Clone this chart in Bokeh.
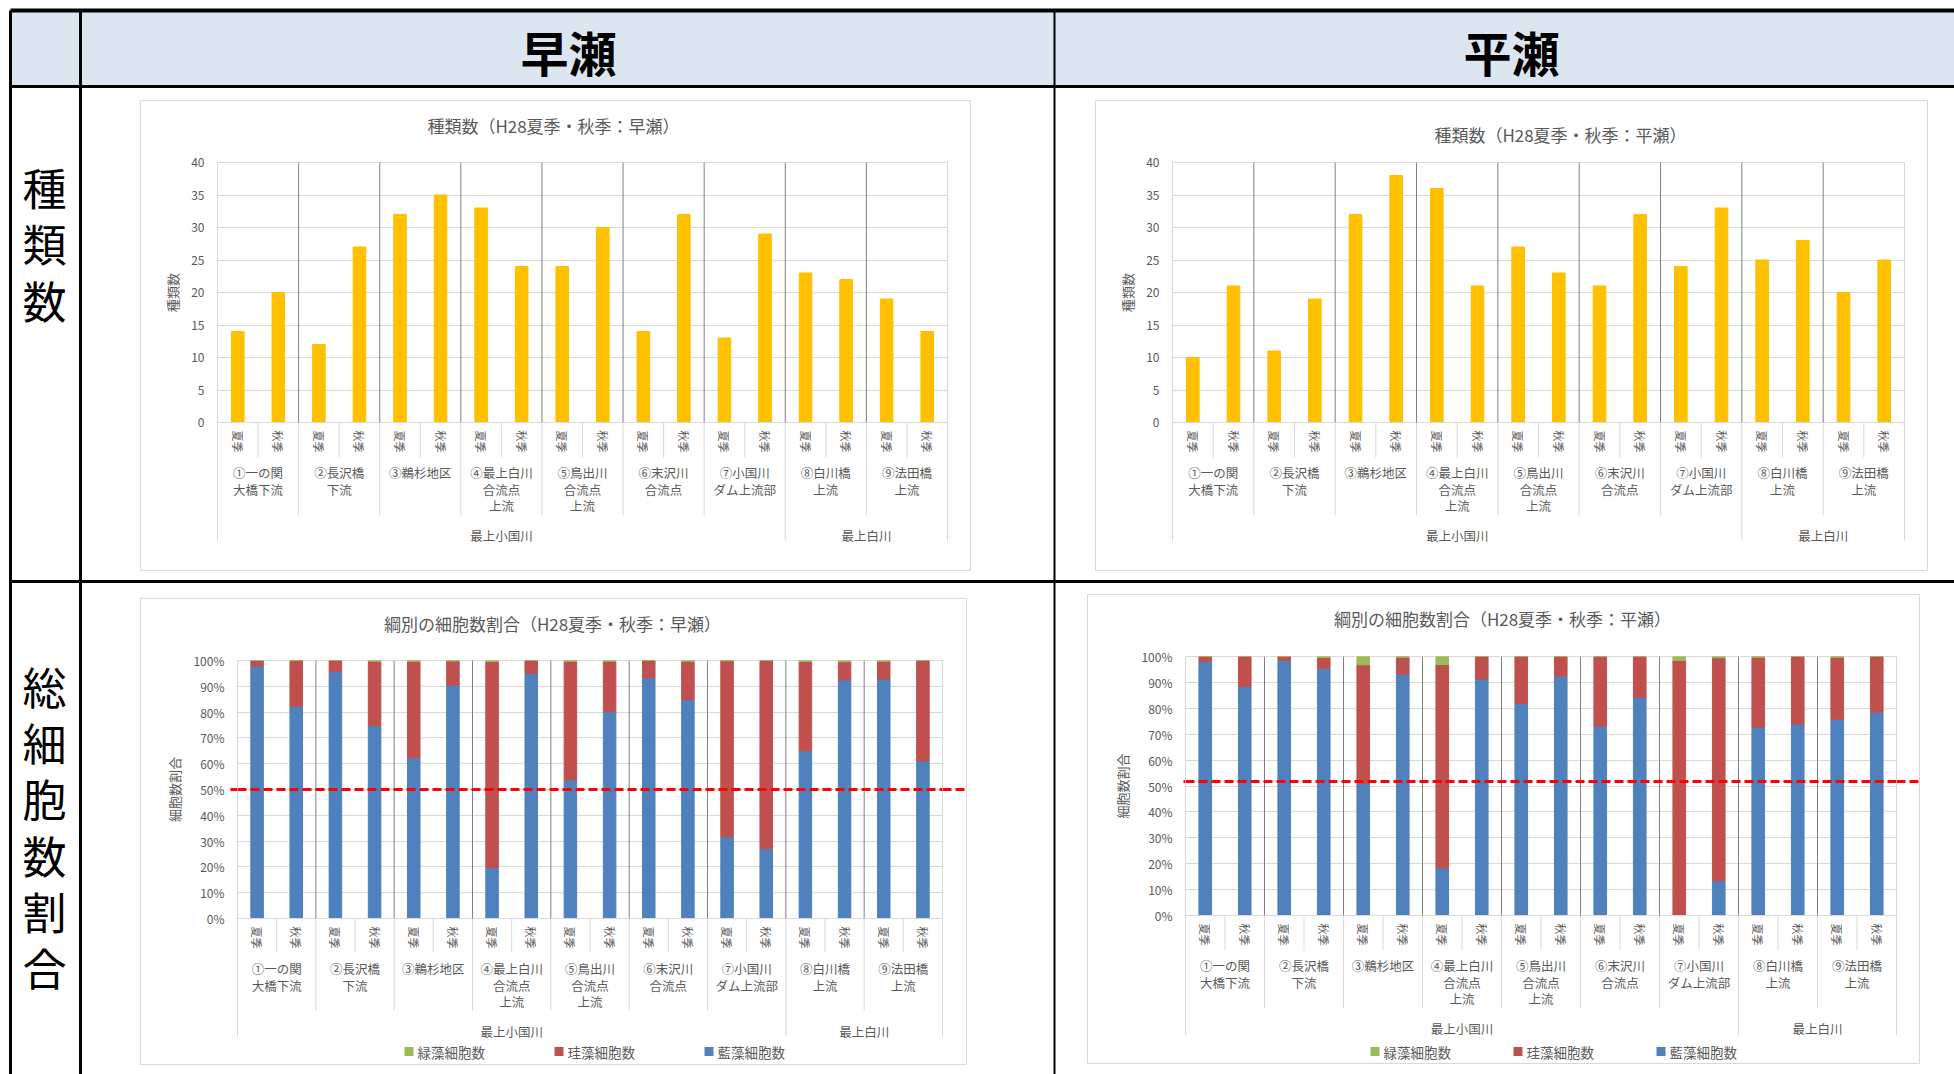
from bokeh.plotting import figure
from bokeh.layouts import column
from bokeh.models import (FactorRange, Range1d, FixedTicker, PrintfTickFormatter,
                          Span, ColumnDataSource)
from bokeh.core.properties import value
from bokeh.embed import file_html
from bokeh.resources import INLINE

FONT = "Noto Sans CJK JP"
TXT = "#595959"
LIGHT = "#D9D9D9"
DARK = "#808080"

# ---------------- data ----------------
rivers = ["最上小国川"] * 7 + ["最上白川"] * 2
sites = ["①一の関\n大橋下流", "②長沢橋\n下流", "③鵜杉地区", "④最上白川\n合流点\n上流",
         "⑤鳥出川\n合流点\n上流", "⑥末沢川\n合流点", "⑦小国川\nダム上流部",
         "⑧白川橋\n上流", "⑨法田橋\n上流"]
seasons = ["夏季", "秋季"]

species_ticks = [0, 5, 10, 15, 20, 25, 30, 35, 40]
pct_ticks = [0, 10, 20, 30, 40, 50, 60, 70, 80, 90, 100]

hayase_species = [14, 20, 12, 27, 32, 35, 33, 24, 24, 30, 14, 32, 13, 29, 23, 22, 19, 14]
hirase_species = [10, 21, 11, 19, 32, 38, 36, 21, 27, 23, 21, 32, 24, 33, 25, 28, 20, 25]

hayase_blue = [97.9, 82.3, 95.6, 74.7, 62.3, 90.5, 19.7, 95.0, 53.7, 80.1, 93.4, 84.9, 31.7, 27.0, 65.0, 92.5, 92.8, 61.0]
hayase_red = [2.1, 17.7, 4.4, 25.0, 37.4, 9.3, 79.9, 5.0, 46.0, 19.6, 6.6, 14.8, 68.2, 73.0, 34.6, 7.0, 6.9, 39.0]
hayase_green = [0.0, 0.0, 0.0, 0.3, 0.3, 0.2, 0.4, 0.0, 0.3, 0.3, 0.0, 0.3, 0.1, 0.0, 0.4, 0.5, 0.3, 0.0]

hirase_blue = [98.1, 88.4, 98.5, 95.5, 51.0, 93.2, 18.4, 91.3, 81.9, 92.4, 73.1, 84.2, 0.0, 13.4, 72.8, 73.9, 75.8, 78.5]
hirase_red = [1.9, 11.6, 1.5, 4.1, 45.8, 6.5, 78.5, 8.7, 18.1, 7.6, 26.9, 15.8, 98.5, 86.1, 26.9, 26.1, 23.9, 21.5]
hirase_green = [0.0, 0.0, 0.0, 0.4, 3.2, 0.3, 3.1, 0.0, 0.0, 0.0, 0.0, 0.0, 1.5, 0.5, 0.3, 0.0, 0.3, 0.0]

hayase_ref_pct = 50.0
hirase_ref_pct = 51.7

col_headers = ["早瀬", "平瀬"]
row_headers = ["種類数", "総細胞数割合"]
chart_titles = ["種類数（H28夏季・秋季：早瀬）", "種類数（H28夏季・秋季：平瀬）",
                "綱別の細胞数割合（H28夏季・秋季：早瀬）", "綱別の細胞数割合（H28夏季・秋季：平瀬）"]
species_label = "種類数"
pct_label = "細胞数割合"
legend_labels = ["緑藻細胞数", "珪藻細胞数", "藍藻細胞数"]

YELLOW = "#FFC000"
GREEN, RED, BLUE = "#9BBB59", "#C0504D", "#4F81BD"
legend_colors = [GREEN, RED, BLUE]

factors = [(r, s, se) for r, s in zip(rivers, sites) for se in seasons]
N = len(factors)

# ---------------- layout geometry (page pixels) ----------------
PAGE_W, PAGE_H = 1954, 1074
GEO = [
    dict(box=(140, 100, 970, 570), plot=(217, 162, 947, 422), title=(553, 125), cuts=(457, 515, 540)),
    dict(box=(1095, 100, 1927, 570), plot=(1172, 162, 1904, 422), title=(1560, 134), cuts=(457, 515, 540)),
    dict(box=(140, 598, 966, 1064), plot=(237, 660, 942, 918), title=(552, 623), cuts=(952, 1010, 1036),
         line=(230, 966), legend=(404, 1051), pitch=150),
    dict(box=(1087, 594, 1919, 1063), plot=(1185, 656, 1896, 915), title=(1502, 618), cuts=(950, 1008, 1035),
         line=(1183, 1919), legend=(1370, 1051), pitch=143),
]
SWATCH = 9


def no_align(p):
    if "frame_align" in p.properties():
        p.frame_align = False
    return p


def base_chart(g, ymax, ticks, ylabel, fmt=None):
    bx0, by0, bx1, by1 = g["box"]
    px0, py0, px1, py1 = g["plot"]
    xr = FactorRange(*factors, factor_padding=0, subgroup_padding=0, group_padding=0, range_padding=0)
    p = figure(width=bx1 - bx0, height=by1 - by0, x_range=xr, y_range=Range1d(0, ymax),
               output_backend="svg", toolbar_location=None, title=None,
               min_border_left=px0 - bx0, min_border_right=bx1 - px1,
               min_border_top=py0 - by0, min_border_bottom=by1 - py1,
               styles={"position": "absolute", "left": f"{bx0}px", "top": f"{by0}px"})
    no_align(p)
    p.background_fill_color = "white"
    p.border_fill_alpha = 0
    p.outline_line_color = LIGHT
    p.xgrid.visible = False
    t = FixedTicker(ticks=ticks)
    ya = p.yaxis[0]
    ya.ticker = t
    p.ygrid[0].ticker = t
    p.ygrid.grid_line_color = LIGHT
    if fmt is not None:
        ya.formatter = fmt
    ya.axis_line_color = None
    ya.major_tick_out = 0
    ya.major_tick_in = 0
    ya.minor_tick_out = 0
    ya.minor_tick_in = 0
    ya.major_label_standoff = 13
    ya.major_label_text_font = FONT
    ya.major_label_text_font_size = "12px"
    ya.major_label_text_color = TXT
    ya.axis_label = ylabel
    ya.axis_label_text_font = FONT
    ya.axis_label_text_font_size = "13px"
    ya.axis_label_text_font_style = "normal"
    ya.axis_label_text_color = TXT
    ya.axis_label_standoff = 6

    xa = p.xaxis[0]
    xa.axis_line_color = LIGHT
    xa.major_tick_out = 0
    xa.major_tick_in = 0
    xa.major_label_standoff = 8
    xa.major_label_orientation = "vertical"
    xa.major_label_text_font = FONT
    xa.major_label_text_font_size = "11px"
    xa.major_label_text_color = TXT
    xa.subgroup_text_font = FONT
    xa.subgroup_text_font_size = "12.5px"
    xa.subgroup_text_font_style = "normal"
    xa.subgroup_text_color = TXT
    xa.subgroup_text_line_height = 0.85
    xa.group_text_font = FONT
    xa.group_text_font_size = "12.5px"
    xa.group_text_font_style = "normal"
    xa.group_text_color = TXT
    xa.separator_line_color = None

    # site boundaries, in the factor range's synthetic coordinates
    for i in range(1, len(sites)):
        p.add_layout(Span(location=2 * i, dimension="height", line_color=DARK, line_width=1))
    return p


def species_chart(g, vals):
    p = base_chart(g, species_ticks[-1], species_ticks, species_label)
    src = ColumnDataSource(dict(x=factors, v=vals))
    p.vbar(x="x", top="v", width=0.31, color=YELLOW, source=src)
    return p


def pct_chart(g, blue, red, green, ref):
    p = base_chart(g, pct_ticks[-1], pct_ticks, pct_label, PrintfTickFormatter(format="%d%%"))
    src = ColumnDataSource(dict(x=factors, blue=blue, red=red, green=green))
    p.vbar_stack(["blue", "red", "green"], x="x", width=0.32, color=[BLUE, RED, GREEN], source=src)
    p.add_layout(Span(location=ref, dimension="width", line_color="#FF0000",
                      line_width=3, line_dash="9 4"))
    return p


c1 = species_chart(GEO[0], hayase_species)
c2 = species_chart(GEO[1], hirase_species)
c3 = pct_chart(GEO[2], hayase_blue, hayase_red, hayase_green, hayase_ref_pct)
c4 = pct_chart(GEO[3], hirase_blue, hirase_red, hirase_green, hirase_ref_pct)

# ---------------- background page (table, titles, axis separators, legends) ----------------
bg = figure(width=PAGE_W, height=PAGE_H, x_range=Range1d(0, PAGE_W), y_range=Range1d(PAGE_H, 0),
            output_backend="svg", toolbar_location=None, title=None, min_border=0,
            min_border_left=0, min_border_right=0, min_border_top=0, min_border_bottom=0,
            x_axis_location=None, y_axis_location=None)
no_align(bg)
bg.xgrid.visible = False
bg.ygrid.visible = False
bg.outline_line_color = None
bg.background_fill_color = "white"
bg.border_fill_color = "white"

# header band
bg.quad(left=[10], right=[PAGE_W], top=[10], bottom=[86], fill_color="#DCE6F1", line_color=None)
# table rules
bg.segment(x0=[10, 10, 10], y0=[10, 86, 581], x1=[PAGE_W] * 3, y1=[10, 86, 581],
           line_color="black", line_width=[4, 3, 3])
bg.segment(x0=[10, 80, 1054], y0=[10, 10, 10], x1=[10, 80, 1054], y1=[PAGE_H] * 3,
           line_color="black", line_width=[3, 3, 2])
bg.text(x=[568, 1511], y=[50, 50], text=col_headers, text_font=value(FONT), text_font_size="48px",
        text_font_style="bold", text_align="center", text_baseline="middle", text_color="black")
bg.text(x=[44, 44], y=[243, 826], text=["\n".join(s) for s in row_headers], text_font=value(FONT),
        text_font_size="44px", text_align="center", text_baseline="middle", text_color="black",
        text_line_height=0.88)

# chart boxes
bg.quad(left=[g["box"][0] for g in GEO], right=[g["box"][2] for g in GEO],
        top=[g["box"][1] for g in GEO], bottom=[g["box"][3] for g in GEO],
        fill_color="white", line_color=LIGHT, line_width=1)
# chart titles
bg.text(x=[g["title"][0] for g in GEO], y=[g["title"][1] for g in GEO], text=chart_titles,
        text_font=value(FONT), text_font_size="17px", text_align="center", text_baseline="middle",
        text_color=TXT)

# multi-level category separators
group_bounds = [2 * i for i in range(1, len(rivers)) if rivers[i] != rivers[i - 1]]
sx, sy0, sy1 = [], [], []
for g in GEO:
    px0, py0, px1, py1 = g["plot"]
    slot = (px1 - px0) / N
    e_season, e_site, e_group = g["cuts"]
    for k in range(N + 1):
        if k in (0, N) or k in group_bounds:
            end = e_group
        elif k % 2 == 0:
            end = e_site
        else:
            end = e_season
        sx.append(px0 + k * slot)
        sy0.append(py1)
        sy1.append(end)
bg.segment(x0=sx, y0=sy0, x1=sx, y1=sy1, line_color=LIGHT, line_width=1)

# red reference line parts outside the plot frames
rx0, rx1, ry = [], [], []
for g, ref in ((GEO[2], hayase_ref_pct), (GEO[3], hirase_ref_pct)):
    px0, py0, px1, py1 = g["plot"]
    y = py1 - ref / pct_ticks[-1] * (py1 - py0)
    rx0 += [g["line"][0], px1]
    rx1 += [px0, g["line"][1]]
    ry += [y, y]
bg.segment(x0=rx0, y0=ry, x1=rx1, y1=ry, line_color="#FF0000", line_width=3, line_dash="9 4")

# legends of the two ratio charts
lq_l, lq_r, lq_t, lq_b, lq_c, lt_x, lt_y, lt_s = [], [], [], [], [], [], [], []
for g in GEO[2:]:
    lx, ly = g["legend"]
    for i, (lab, col) in enumerate(zip(legend_labels, legend_colors)):
        x0 = lx + i * g["pitch"]
        lq_l.append(x0)
        lq_r.append(x0 + SWATCH)
        lq_t.append(ly - SWATCH / 2)
        lq_b.append(ly + SWATCH / 2)
        lq_c.append(col)
        lt_x.append(x0 + SWATCH + 4)
        lt_y.append(ly)
        lt_s.append(lab)
bg.quad(left=lq_l, right=lq_r, top=lq_t, bottom=lq_b, fill_color=lq_c, line_color=None)
bg.text(x=lt_x, y=lt_y, text=lt_s, text_font=value(FONT), text_font_size="13.5px",
        text_align="left", text_baseline="middle", text_color=TXT)

root = column(bg, c1, c2, c3, c4, spacing=0)

open("out.html", "w").write(file_html(root, INLINE))
